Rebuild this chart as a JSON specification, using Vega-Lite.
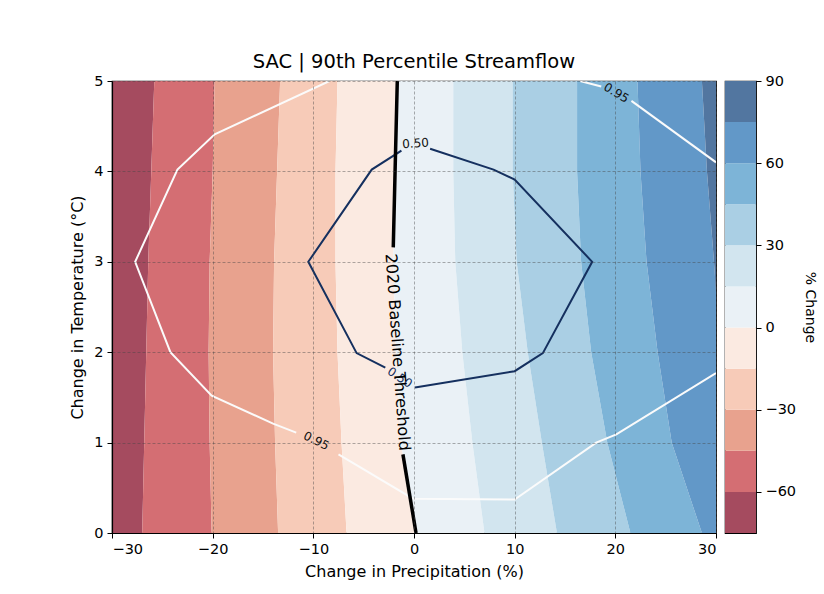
{
  "$schema": "https://vega.github.io/schema/vega-lite/v6.json",
  "background": "white",
  "padding": {"left": 69, "top": 50, "right": 2, "bottom": 2},
  "config": {
    "font": "DejaVu Sans",
    "view": {"stroke": "black", "strokeWidth": 1.2},
    "axis": {"labelFont": "DejaVu Sans", "titleFont": "DejaVu Sans", "labelFontSize": 14.5, "titleFontSize": 16, "titleFontWeight": "normal", "labelColor": "black", "titleColor": "black", "tickColor": "black", "domainColor": "black", "tickSize": 5, "labelPadding": 4, "domainWidth": 1.2, "tickWidth": 1},
    "title": {"font": "DejaVu Sans", "color": "black", "fontWeight": "normal", "fontSize": 19.5}
  },
  "datasets": {
    "bands": [
      {"band": "b1", "y": 0, "x": -30, "x2": -27.0}, {"band": "b1", "y": 1, "x": -30, "x2": -26.8}, {"band": "b1", "y": 2, "x": -30, "x2": -26.6}, {"band": "b1", "y": 3, "x": -30, "x2": -26.4}, {"band": "b1", "y": 4, "x": -30, "x2": -26.1}, {"band": "b1", "y": 5, "x": -30, "x2": -25.8},
      {"band": "b2", "y": 0, "x": -27.0, "x2": -20.1}, {"band": "b2", "y": 1, "x": -26.8, "x2": -20.3}, {"band": "b2", "y": 2, "x": -26.6, "x2": -20.4}, {"band": "b2", "y": 3, "x": -26.4, "x2": -20.3}, {"band": "b2", "y": 4, "x": -26.1, "x2": -20.0}, {"band": "b2", "y": 5, "x": -25.8, "x2": -19.8},
      {"band": "b3", "y": 0, "x": -20.1, "x2": -13.5}, {"band": "b3", "y": 1, "x": -20.3, "x2": -13.8}, {"band": "b3", "y": 2, "x": -20.4, "x2": -14.0}, {"band": "b3", "y": 3, "x": -20.3, "x2": -13.9}, {"band": "b3", "y": 4, "x": -20.0, "x2": -13.6}, {"band": "b3", "y": 5, "x": -19.8, "x2": -13.3},
      {"band": "b4", "y": 0, "x": -13.5, "x2": -6.7}, {"band": "b4", "y": 1, "x": -13.8, "x2": -7.2}, {"band": "b4", "y": 2, "x": -14.0, "x2": -7.6}, {"band": "b4", "y": 3, "x": -13.9, "x2": -7.8}, {"band": "b4", "y": 4, "x": -13.6, "x2": -7.8}, {"band": "b4", "y": 5, "x": -13.3, "x2": -7.6},
      {"band": "b5", "y": 0, "x": -6.7, "x2": 0.2}, {"band": "b5", "y": 1, "x": -7.2, "x2": -1.3}, {"band": "b5", "y": 2, "x": -7.6, "x2": -1.8}, {"band": "b5", "y": 3, "x": -7.8, "x2": -2.05}, {"band": "b5", "y": 4, "x": -7.8, "x2": -1.88}, {"band": "b5", "y": 5, "x": -7.6, "x2": -1.66},
      {"band": "b6", "y": 0, "x": 0.2, "x2": 7.0}, {"band": "b6", "y": 1, "x": -1.3, "x2": 5.8}, {"band": "b6", "y": 2, "x": -1.8, "x2": 4.8}, {"band": "b6", "y": 3, "x": -2.05, "x2": 4.1}, {"band": "b6", "y": 4, "x": -1.88, "x2": 3.9}, {"band": "b6", "y": 5, "x": -1.66, "x2": 3.9},
      {"band": "b7", "y": 0, "x": 7.0, "x2": 14.2}, {"band": "b7", "y": 1, "x": 5.8, "x2": 12.7}, {"band": "b7", "y": 2, "x": 4.8, "x2": 11.3}, {"band": "b7", "y": 3, "x": 4.1, "x2": 10.2}, {"band": "b7", "y": 4, "x": 3.9, "x2": 9.8}, {"band": "b7", "y": 5, "x": 3.9, "x2": 9.8},
      {"band": "b8", "y": 0, "x": 14.2, "x2": 21.5}, {"band": "b8", "y": 1, "x": 12.7, "x2": 19.2}, {"band": "b8", "y": 2, "x": 11.3, "x2": 17.6}, {"band": "b8", "y": 3, "x": 10.2, "x2": 16.6}, {"band": "b8", "y": 4, "x": 9.8, "x2": 16.2}, {"band": "b8", "y": 5, "x": 9.8, "x2": 16.2},
      {"band": "b9", "y": 0, "x": 21.5, "x2": 28.6}, {"band": "b9", "y": 1, "x": 19.2, "x2": 25.6}, {"band": "b9", "y": 2, "x": 17.6, "x2": 24.2}, {"band": "b9", "y": 3, "x": 16.6, "x2": 23.1}, {"band": "b9", "y": 4, "x": 16.2, "x2": 22.5}, {"band": "b9", "y": 5, "x": 16.2, "x2": 22.2},
      {"band": "b10", "y": 0, "x": 28.6, "x2": 32}, {"band": "b10", "y": 1, "x": 25.6, "x2": 31}, {"band": "b10", "y": 2, "x": 24.2, "x2": 30.4}, {"band": "b10", "y": 3, "x": 23.1, "x2": 29.8}, {"band": "b10", "y": 4, "x": 22.5, "x2": 29.1}, {"band": "b10", "y": 5, "x": 22.2, "x2": 28.6},
      {"band": "b11", "y": 0, "x": 32, "x2": 32}, {"band": "b11", "y": 1, "x": 31, "x2": 32}, {"band": "b11", "y": 2, "x": 30.4, "x2": 32}, {"band": "b11", "y": 3, "x": 29.8, "x2": 32}, {"band": "b11", "y": 4, "x": 29.1, "x2": 32}, {"band": "b11", "y": 5, "x": 28.6, "x2": 32}
    ],
    "cbar": [
      {"band": "b1", "lo": -75, "hi": -60}, {"band": "b2", "lo": -60, "hi": -45}, {"band": "b3", "lo": -45, "hi": -30}, {"band": "b4", "lo": -30, "hi": -15}, {"band": "b5", "lo": -15, "hi": 0}, {"band": "b6", "lo": 0, "hi": 15}, {"band": "b7", "lo": 15, "hi": 30}, {"band": "b8", "lo": 30, "hi": 45}, {"band": "b9", "lo": 45, "hi": 60}, {"band": "b10", "lo": 60, "hi": 75}, {"band": "b11", "lo": 75, "hi": 90}
    ],
    "white": [
      {"seg": "w1", "i": 0, "x": -8.4, "y": 5.0}, {"seg": "w1", "i": 1, "x": -19.8, "y": 4.41}, {"seg": "w1", "i": 2, "x": -23.5, "y": 4.02}, {"seg": "w1", "i": 3, "x": -27.7, "y": 3.0}, {"seg": "w1", "i": 4, "x": -24.2, "y": 2.0}, {"seg": "w1", "i": 5, "x": -20.1, "y": 1.52}, {"seg": "w1", "i": 6, "x": -14.0, "y": 1.21}, {"seg": "w1", "i": 7, "x": -11.7, "y": 1.11},
      {"seg": "w2", "i": 0, "x": -7.5, "y": 0.87}, {"seg": "w2", "i": 1, "x": -0.1, "y": 0.38}, {"seg": "w2", "i": 2, "x": 10.0, "y": 0.37}, {"seg": "w2", "i": 3, "x": 18.1, "y": 1.0}, {"seg": "w2", "i": 4, "x": 20.1, "y": 1.09}, {"seg": "w2", "i": 5, "x": 30.0, "y": 1.77},
      {"seg": "w3", "i": 0, "x": 16.5, "y": 5.0}, {"seg": "w3", "i": 1, "x": 18.6, "y": 4.94},
      {"seg": "w4", "i": 0, "x": 21.6, "y": 4.78}, {"seg": "w4", "i": 1, "x": 30.0, "y": 4.1}
    ],
    "navy": [
      {"seg": "n1", "i": 0, "x": 1.6, "y": 4.25}, {"seg": "n1", "i": 1, "x": 7.9, "y": 4.02}, {"seg": "n1", "i": 2, "x": 10.0, "y": 3.91}, {"seg": "n1", "i": 3, "x": 17.7, "y": 3.0}, {"seg": "n1", "i": 4, "x": 12.8, "y": 1.99}, {"seg": "n1", "i": 5, "x": 10.0, "y": 1.79}, {"seg": "n1", "i": 6, "x": 0.1, "y": 1.61},
      {"seg": "n2", "i": 0, "x": -2.85, "y": 1.83}, {"seg": "n2", "i": 1, "x": -5.7, "y": 1.99}, {"seg": "n2", "i": 2, "x": -10.5, "y": 3.0}, {"seg": "n2", "i": 3, "x": -4.2, "y": 4.02}, {"seg": "n2", "i": 4, "x": -1.25, "y": 4.23}
    ],
    "base": [
      {"seg": "k1", "i": 0, "x": -1.66, "y": 5.0}, {"seg": "k1", "i": 1, "x": -1.88, "y": 4.0}, {"seg": "k1", "i": 2, "x": -2.06, "y": 3.16},
      {"seg": "k2", "i": 0, "x": -1.1, "y": 0.87}, {"seg": "k2", "i": 1, "x": 0.2, "y": 0.0}
    ]
  },
  "spacing": 6,
  "hconcat": [
    {
      "title": {"text": "SAC | 90th Percentile Streamflow", "fontSize": 19.5, "fontWeight": "normal", "offset": 1},
      "width": 604,
      "height": 452,
      "encoding": {
        "x": {"field": "x", "type": "quantitative", "stack": null, "scale": {"domain": [-30, 30], "nice": false, "zero": false},
          "axis": {"values": [-30, -20, -10, 0, 10, 20, 30], "title": "Change in Precipitation (%)", "titlePadding": 8, "grid": true, "gridDash": [3, 2], "gridColor": "#444", "gridOpacity": 0.55, "gridWidth": 0.8, "zindex": 1}},
        "y": {"field": "y", "type": "quantitative", "scale": {"domain": [0, 5], "nice": false, "zero": false},
          "axis": {"values": [0, 1, 2, 3, 4, 5], "title": "Change in Temperature (°C)", "titlePadding": 8, "grid": true, "gridDash": [3, 2], "gridColor": "#444", "gridOpacity": 0.55, "gridWidth": 0.8, "zindex": 1}}
      },
      "layer": [
        {
          "data": {"name": "bands"},
          "mark": {"type": "area", "orient": "horizontal", "clip": true},
          "encoding": {
            "x2": {"field": "x2"},
            "color": {"field": "band", "type": "nominal", "legend": null,
              "scale": {"domain": ["b1", "b2", "b3", "b4", "b5", "b6", "b7", "b8", "b9", "b10", "b11"],
                "range": ["#a54b5f", "#d46e73", "#e8a28e", "#f7cbb8", "#fbeae1", "#eaf1f6", "#d2e5ef", "#aacfe4", "#7db4d7", "#6298c8", "#5276a0"]}}
          }
        },
        {
          "data": {"name": "white"},
          "mark": {"type": "line", "clip": true, "color": "#fbfbfb", "strokeWidth": 2},
          "encoding": {"detail": {"field": "seg"}, "order": {"field": "i"}}
        },
        {
          "data": {"name": "navy"},
          "mark": {"type": "line", "clip": true, "color": "#15305f", "strokeWidth": 2},
          "encoding": {"detail": {"field": "seg"}, "order": {"field": "i"}}
        },
        {
          "data": {"name": "base"},
          "mark": {"type": "line", "clip": true, "color": "black", "strokeWidth": 3.5},
          "encoding": {"detail": {"field": "seg"}, "order": {"field": "i"}}
        },
        {
          "data": {"values": [{"x": -9.7, "y": 1.02, "label": "0.95"}]},
          "mark": {"type": "text", "angle": 26, "fontSize": 12, "color": "#111", "align": "center", "baseline": "middle"},
          "encoding": {"text": {"field": "label"}}
        },
        {
          "data": {"values": [{"x": 20.1, "y": 4.87, "label": "0.95"}]},
          "mark": {"type": "text", "angle": 31, "fontSize": 12, "color": "#111", "align": "center", "baseline": "middle"},
          "encoding": {"text": {"field": "label"}}
        },
        {
          "data": {"values": [{"x": 0.15, "y": 4.31, "label": "0.50"}]},
          "mark": {"type": "text", "angle": -4, "fontSize": 12, "color": "#111", "align": "center", "baseline": "middle"},
          "encoding": {"text": {"field": "label"}}
        },
        {
          "data": {"values": [{"x": -1.4, "y": 1.72, "label": "0.50"}]},
          "mark": {"type": "text", "angle": 34, "fontSize": 12, "color": "#15305f", "align": "center", "baseline": "middle"},
          "encoding": {"text": {"field": "label"}}
        },
        {
          "data": {"values": [{"x": -1.64, "y": 2.0, "label": "2020 Baseline Threshold"}]},
          "mark": {"type": "text", "angle": 86, "fontSize": 16, "color": "black", "align": "center", "baseline": "middle"},
          "encoding": {"text": {"field": "label"}}
        }
      ]
    },
    {
      "width": 31,
      "height": 452,
      "data": {"name": "cbar"},
      "mark": "rect",
      "encoding": {
        "y": {"field": "lo", "type": "quantitative", "scale": {"domain": [-75, 90], "nice": false, "zero": false},
          "axis": {"orient": "right", "values": [-60, -30, 0, 30, 60, 90], "title": "% Change", "titleFontSize": 14, "titlePadding": 7, "grid": false, "domain": false}},
        "y2": {"field": "hi"},
        "color": {"field": "band", "type": "nominal", "legend": null,
          "scale": {"domain": ["b1", "b2", "b3", "b4", "b5", "b6", "b7", "b8", "b9", "b10", "b11"],
            "range": ["#a54b5f", "#d46e73", "#e8a28e", "#f7cbb8", "#fbeae1", "#eaf1f6", "#d2e5ef", "#aacfe4", "#7db4d7", "#6298c8", "#5276a0"]}}
      }
    }
  ]
}
